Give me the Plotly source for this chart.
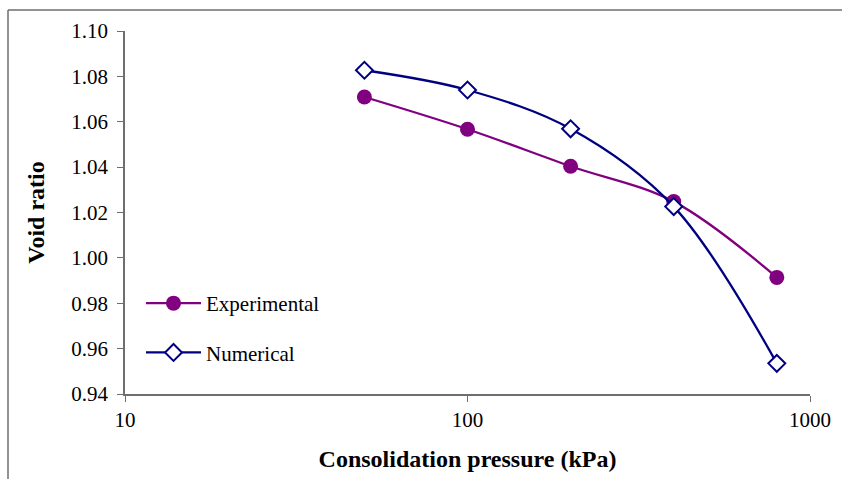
import plotly.graph_objects as go

pressure = [50, 100, 200, 400, 800]
experimental = [1.0709, 1.0567, 1.0404, 1.0248, 0.9914]
numerical = [1.0827, 1.0740, 1.0569, 1.0226, 0.9535]
x_ticks = [10, 100, 1000]
x_tick_labels = ["10", "100", "1000"]
y_ticks = [0.94, 0.96, 0.98, 1.00, 1.02, 1.04, 1.06, 1.08, 1.10]

FONT = "'Liberation Serif', 'Times New Roman', serif"
PURPLE = "#800080"
NAVY = "#000080"
AXIS = "#6e6e6e"

fig = go.Figure()
fig.add_trace(go.Scatter(
    x=pressure, y=experimental, name="Experimental", legendgroup="a",
    mode="lines+markers",
    line=dict(color=PURPLE, width=2.3, shape="spline", smoothing=1.0),
    marker=dict(symbol="circle", size=15, color=PURPLE),
))
fig.add_trace(go.Scatter(
    x=pressure, y=numerical, name="Numerical", legendgroup="b",
    mode="lines+markers",
    line=dict(color=NAVY, width=2.3, shape="spline", smoothing=1.0),
    marker=dict(symbol="diamond", size=13, color="white",
                line=dict(color=NAVY, width=2)),
))

L, R, T, B = 125, 32, 31, 85
W, H = 842, 479
pw, ph = W - L - R, H - T - B

def px(x):
    return (x - L) / pw

def py(y):
    return (H - B - y) / ph

fig.update_layout(
    width=W, height=H,
    margin=dict(l=L, r=R, t=T, b=B),
    paper_bgcolor="white", plot_bgcolor="white",
    font=dict(family=FONT, size=21, color="black"),
    showlegend=True,
    legend=dict(x=px(141), y=py(283), xanchor="left", yanchor="top",
                bgcolor="rgba(0,0,0,0)", tracegroupgap=19,
                font=dict(family=FONT, size=21, color="black"),
                itemwidth=55),
    xaxis=dict(
        type="log", range=[1, 3], tickvals=x_ticks, ticktext=x_tick_labels,
        showgrid=False, zeroline=False, showline=True, linecolor=AXIS, linewidth=1.5,
        ticks="outside", ticklen=6, tickcolor=AXIS, mirror=False,
        tickfont=dict(family=FONT, size=21, color="black"),
        title=dict(text="<b>Consolidation pressure (kPa)</b>", standoff=19,
                   font=dict(family=FONT, size=24, color="black")),
    ),
    yaxis=dict(
        range=[0.94, 1.10], tickvals=y_ticks, tickformat=".2f",
        showgrid=False, zeroline=False, showline=True, linecolor=AXIS, linewidth=1.5,
        ticks="outside", ticklen=6, tickcolor=AXIS, ticklabelstandoff=5,
        tickfont=dict(family=FONT, size=21, color="black"),
        title=dict(text="<b>Void ratio</b>", standoff=20,
                   font=dict(family=FONT, size=24, color="black")),
    ),
    shapes=[
        dict(type="line", xref="paper", yref="paper", x0=px(8), x1=px(8),
             y0=py(10), y1=py(490), line=dict(color=AXIS, width=1.5)),
        dict(type="line", xref="paper", yref="paper", x0=px(8), x1=px(860),
             y0=py(10), y1=py(10), line=dict(color=AXIS, width=1.5)),
    ],
)

fig.write_html("out.html")
